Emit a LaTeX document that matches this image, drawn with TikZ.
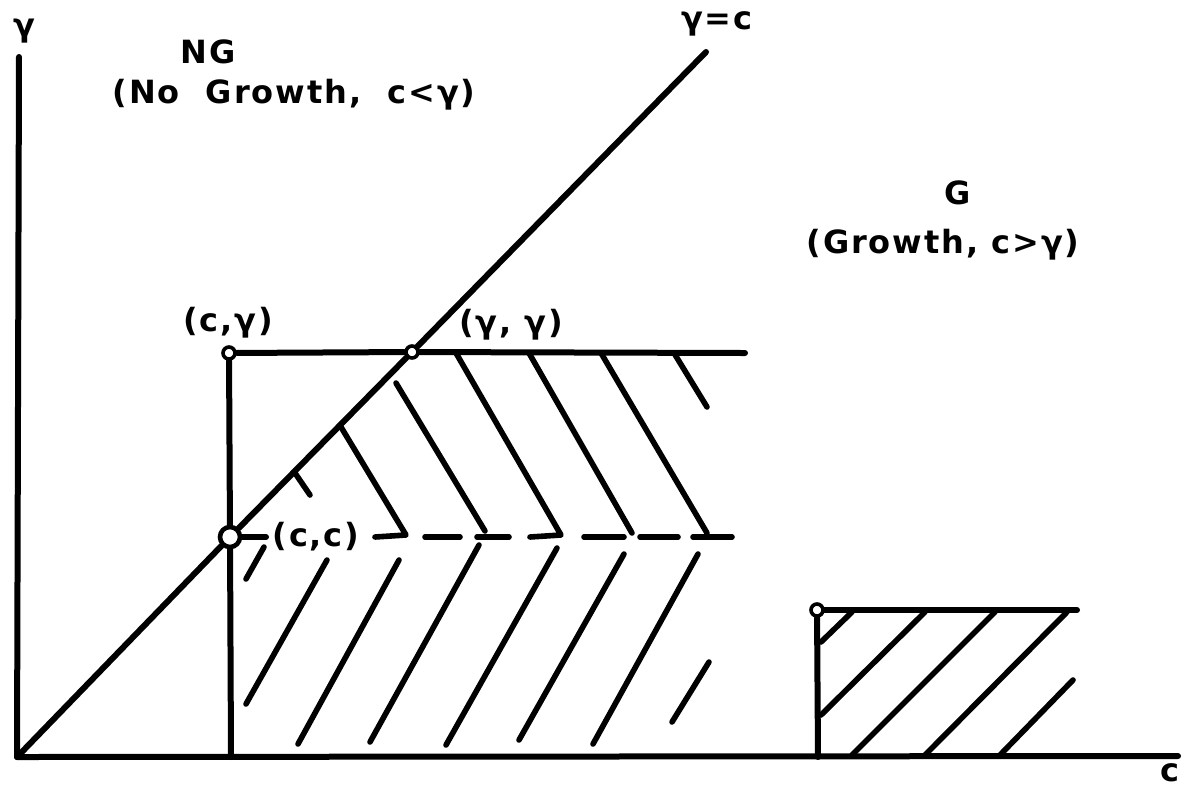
\documentclass[tikz,border=0pt]{standalone}
\usepackage{fontspec}
\newfontfamily\lab[LetterSpace=6]{DejaVu Sans}
\begin{document}
\begin{tikzpicture}[x=0.5pt,y=-0.5pt,
  ln/.style={line width=3pt,line cap=round,line join=round},
  htch/.style={line width=2.8pt,line cap=round,line join=round},
  dot/.style={circle,draw,fill=white,line width=1.8pt,inner sep=0pt,minimum size=6pt},
  bigdot/.style={circle,draw,fill=white,line width=2.3pt,inner sep=0pt,minimum size=10pt},
  lbl/.style={font=\lab\bfseries\fontsize{16}{18}\selectfont,inner sep=0pt}]
\useasboundingbox (0,0) rectangle (1188,789);
% points
\node[dot] (cg) at (229,353) {};
\node[dot] (gg) at (412,352) {};
\node[bigdot] (cc) at (230,537) {};
\node[dot] (gp) at (817,610) {};
\coordinate (O) at (17,757);
\coordinate (Ytop) at (19,57);
\coordinate (Xend) at (1178,756);
\coordinate (Dtop) at (706,52);
\coordinate (Vbot) at (231,757);
\coordinate (Tend) at (745,353);
\coordinate (Gbot) at (818,757);
\coordinate (Gend) at (1077,610);
\coordinate (ccd) at (266,537);
% axes and main lines
\draw[ln] (Ytop) -- (O) -- (Xend);
\draw[ln] (O) -- (cc) -- (gg) -- (Dtop);
\draw[ln] (cg) -- (gg) -- (Tend);
\draw[ln] (cg) -- (cc) -- (Vbot);
\draw[ln] (cc) -- (ccd);
\draw[ln] (gp) -- (Gbot);
\draw[ln] (gp) -- (Gend);
% upper hatching
\draw[htch] (295,473) -- (310,495);
\draw[htch] (341,427) -- (406,535) -- (375,537);
\draw[htch] (396,383) -- (485,531);
\draw[htch] (456,353) -- (561,535) -- (530,537);
\draw[htch] (529,353) -- (632,533);
\draw[htch] (601,353) -- (707,533);
\draw[htch] (674,353) -- (707,407);
% dashed line pieces
\draw[htch] (425,537) -- (460,537);
\draw[htch] (477,537) -- (509,537);
\draw[htch] (584,537) -- (624,537);
\draw[htch] (640,537) -- (678,537);
\draw[htch] (693,537) -- (732,537);
% lower hatching
\draw[htch] (264,547) -- (246,579);
\draw[htch] (327,560) -- (246,704);
\draw[htch] (399,560) -- (298,744);
\draw[htch] (479,545) -- (370,742);
\draw[htch] (557,548) -- (446,745);
\draw[htch] (624,554) -- (519,740);
\draw[htch] (698,554) -- (593,744);
\draw[htch] (709,662) -- (672,722);
% G region hatching
\draw[htch] (852,612) -- (821,642);
\draw[htch] (925,612) -- (821,715);
\draw[htch] (995,612) -- (852,755);
\draw[htch] (1067,612) -- (925,755);
\draw[htch] (1073,680) -- (1000,755);
% labels
\node[lbl] (ylab) at (24,31) {γ};
\node[lbl] (xlab) at (1170,773) {c};
\node[lbl] (ng) at (208,52) {NG};
\node[lbl] (ngs) at (294,95) {(No\ \ Growth,\ \ c<γ)};
\node[lbl] (diag) at (717,24) {γ=c};
\node[lbl] (g) at (958,193) {G};
\node[lbl] (gs) at (943,245) {(Growth,\ c>γ)};
\node[lbl] (cgl) at (228,323) {(c,γ)};
\node[lbl] (ggl) at (511,325) {(γ,\ γ)};
\node[lbl] (ccl) at (316,537) {(c,c)};
\end{tikzpicture}
\end{document}
